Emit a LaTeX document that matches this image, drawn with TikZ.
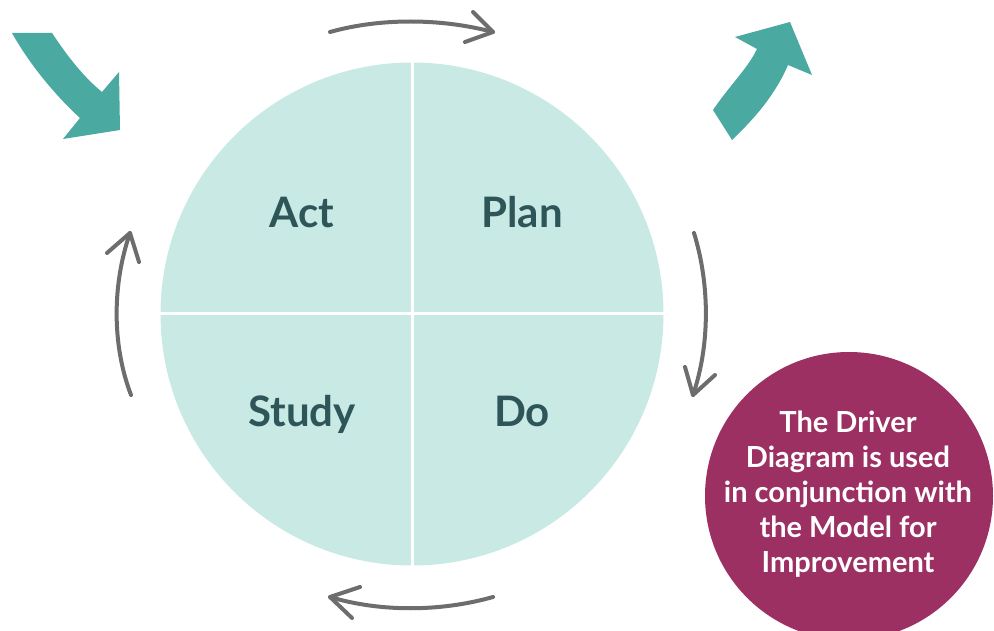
\documentclass[tikz,border=0pt]{standalone}
\usepackage{fontspec}
\setmainfont{Lato}
\definecolor{cyclefill}{HTML}{C9E9E5}
\definecolor{cycletext}{HTML}{2E5659}
\definecolor{tealarrow}{HTML}{4AA9A1}
\definecolor{grayarrow}{HTML}{6D6D6D}
\definecolor{magentafill}{HTML}{9C3062}
\begin{document}
\begin{tikzpicture}[x=1pt,y=-1pt,
  quadlabel/.style={text=cycletext,font=\fontsize{42}{48}\selectfont\bfseries,anchor=base,inner sep=0pt},
  cyclearrow/.style={draw=grayarrow,line width=4pt,line cap=round,line join=round},
  bigarrow/.style={fill=tealarrow,draw=none}]
\useasboundingbox (0,0) rectangle (994,631);
% main circle
\node[circle,fill=cyclefill,minimum size=503pt,inner sep=0pt] (pdsa) at (412,314) {};
\draw[white,line width=3pt] (pdsa.north) -- (pdsa.south);
\draw[white,line width=3pt] (pdsa.west) -- (pdsa.east);
\node[quadlabel] (act) at (302,228) {Act};
\node[quadlabel] (plan) at (522,228) {Plan};
\node[quadlabel] (study) at (302,426) {Study};
\node[quadlabel] (do) at (522,426) {Do};
% magenta circle
\node[circle,fill=magentafill,minimum size=288pt,inner sep=0pt] (driver) at (849,496) {};
\node[text=white,font=\fontsize{29}{35}\selectfont\bfseries,align=center,inner sep=0pt] (drivertext) at (848,494)
  {The Driver\\Diagram is used\\in conjunction with\\the Model for\\Improvement};
% teal arrows
\path[bigarrow] (12,33) -- (52,33) .. controls (70,60) and (85,78) .. (102,92) -- (119,72) -- (120,130) -- (63,139) -- (80,118) .. controls (55,95) and (30,65) .. (12,33) -- cycle;
\path[bigarrow] (713,110) .. controls (730,85) and (748,68) .. (757,49) -- (735,37) -- (790,22) -- (812,75) -- (788,65) .. controls (775,95) and (755,118) .. (732,140) -- cycle;
% gray cycle arrows
\coordinate (t1) at (330,32); \coordinate (t2) at (493,32);
\coordinate (r1) at (694,233); \coordinate (r2) at (693,395);
\coordinate (b1) at (493,597); \coordinate (b2) at (330,597);
\coordinate (l1) at (131,395); \coordinate (l2) at (130,233);
\draw[cyclearrow] (t1) .. controls (380,18) and (440,18) .. (t2);
\draw[cyclearrow] (473,12) -- (t2) -- (465,42);
\draw[cyclearrow] (r1) .. controls (710,285) and (710,345) .. (r2);
\draw[cyclearrow] (685,367) -- (r2) -- (715,375);
\draw[cyclearrow] (b1) .. controls (440,612) and (380,612) .. (b2);
\draw[cyclearrow] (360,587) -- (b2) -- (352,618);
\draw[cyclearrow] (l1) .. controls (112,345) and (112,285) .. (l2);
\draw[cyclearrow] (107,253) -- (l2) -- (139,262);
\end{tikzpicture}
\end{document}
